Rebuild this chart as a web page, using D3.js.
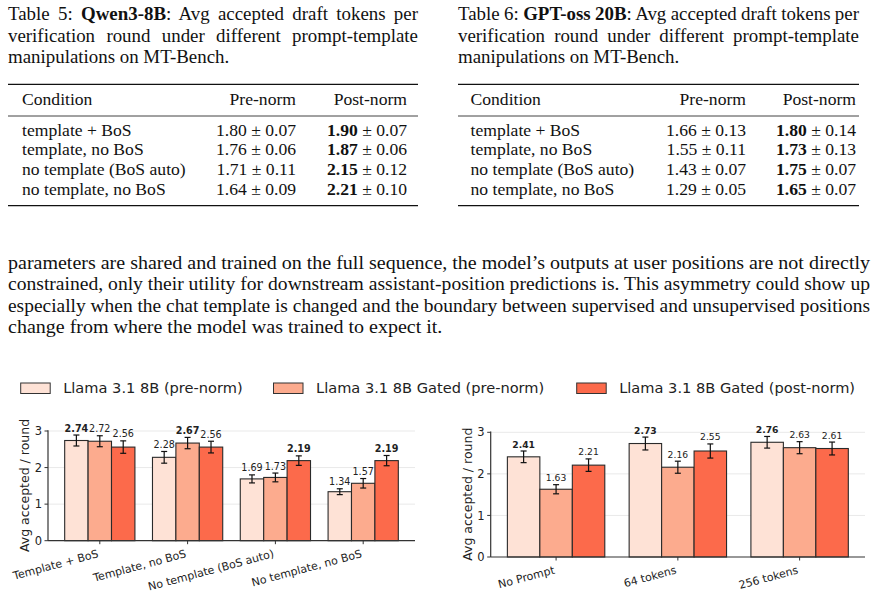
<!DOCTYPE html>
<html>
<head>
<meta charset="utf-8">
<script src="https://cdn.jsdelivr.net/npm/d3@7"></script>
<style>
  body { margin: 0; background: #fff; }
</style>
</head>
<body>
<svg id="page" width="878" height="594"></svg>
<script>
// ---- table data ----
const conditions = ["template + BoS", "template, no BoS", "no template (BoS auto)", "no template, no BoS"];
const qwenPre = [1.80, 1.76, 1.71, 1.64];
const qwenPreErr = [0.07, 0.06, 0.11, 0.09];
const qwenPost = [1.90, 1.87, 2.15, 2.21];
const qwenPostErr = [0.07, 0.06, 0.12, 0.10];
const gptPre = [1.66, 1.55, 1.43, 1.29];
const gptPreErr = [0.13, 0.11, 0.07, 0.05];
const gptPost = [1.80, 1.73, 1.75, 1.65];
const gptPostErr = [0.14, 0.13, 0.07, 0.07];

const paragraph = [
  "parameters are shared and trained on the full sequence, the model\u2019s outputs at user positions are not directly",
  "constrained, only their utility for downstream assistant-position predictions is. This asymmetry could show up",
  "especially when the chat template is changed and the boundary between supervised and unsupervised positions",
  "change from where the model was trained to expect it."
];

// ---- chart data ----
const seriesNames = ["Llama 3.1 8B (pre-norm)", "Llama 3.1 8B Gated (pre-norm)", "Llama 3.1 8B Gated (post-norm)"];
const seriesColors = ["#fee2d6", "#fcab8e", "#fc6a4b"];

const templateCats = ["Template + BoS", "Template, no BoS", "No template (BoS auto)", "No template, no BoS"];
const tLlamaPre = [2.74, 2.28, 1.69, 1.34];
const tLlamaPreErr = [0.15, 0.16, 0.11, 0.08];
const tGatedPre = [2.72, 2.67, 1.73, 1.57];
const tGatedPreErr = [0.15, 0.155, 0.12, 0.13];
const tGatedPost = [2.56, 2.56, 2.19, 2.19];
const tGatedPostErr = [0.17, 0.16, 0.13, 0.14];

const promptCats = ["No Prompt", "64 tokens", "256 tokens"];
const pLlamaPre = [2.41, 2.73, 2.76];
const pLlamaPreErr = [0.14, 0.155, 0.14];
const pGatedPre = [1.63, 2.16, 2.63];
const pGatedPreErr = [0.11, 0.145, 0.145];
const pGatedPost = [2.21, 2.55, 2.61];
const pGatedPostErr = [0.15, 0.17, 0.155];

const yTicks = [0, 1, 2, 3];

const SERIF = "'Liberation Serif', Tinos, 'Nimbus Roman', 'Times New Roman', Times, 'DejaVu Serif', serif";
const SANS = "'DejaVu Sans', sans-serif";

const svg = d3.select("#page");

// justify a text line to a width by word spacing
function justify(sel, width) {
  const w = sel.node().getComputedTextLength();
  const spaces = (sel.text().match(/ /g) || []).length;
  if (spaces > 0) sel.attr("word-spacing", (width - w) / spaces);
}

// ---- tables ----
function drawTable(cfg) {
  const g = svg.append("g").attr("font-family", SERIF).attr("fill", "#111");
  const fs = 17.6;   // table body
  const cs = 18.9;   // caption
  const cap = cfg.caption;
  const l1 = g.append("text").attr("x", cfg.x).attr("y", 19.5).attr("font-size", cs);
  l1.append("tspan").text(cap[0]);
  l1.append("tspan").attr("font-weight", "bold").text(cap[1]);
  l1.append("tspan").text(cap[2]);
  justify(l1, cfg.right - cfg.x);
  const l2 = g.append("text").attr("x", cfg.x).attr("y", 41.5).attr("font-size", cs).text(cap[3]);
  justify(l2, cfg.right - cfg.x);
  g.append("text").attr("x", cfg.x).attr("y", 63.3).attr("font-size", cs).text(cap[4]);

  // rules
  g.append("line").attr("x1", cfg.x).attr("x2", cfg.right).attr("y1", 84.3).attr("y2", 84.3)
    .attr("stroke", "#111").attr("stroke-width", 1.3);
  g.append("line").attr("x1", cfg.x).attr("x2", cfg.right).attr("y1", 116).attr("y2", 116)
    .attr("stroke", "#111").attr("stroke-width", 0.8);
  g.append("line").attr("x1", cfg.x).attr("x2", cfg.right).attr("y1", 205.7).attr("y2", 205.7)
    .attr("stroke", "#111").attr("stroke-width", 1.3);

  g.append("text").attr("x", cfg.condX).attr("y", 105).attr("font-size", fs).text("Condition");
  g.append("text").attr("x", cfg.preX).attr("y", 105).attr("text-anchor", "end").attr("font-size", fs).text("Pre-norm");
  g.append("text").attr("x", cfg.postX).attr("y", 105).attr("text-anchor", "end").attr("font-size", fs).text("Post-norm");

  const rowY = d3.scaleLinear().domain([0, 3]).range([135.5, 195]);
  conditions.forEach((c, i) => {
    g.append("text").attr("x", cfg.condX).attr("y", rowY(i)).attr("font-size", fs).text(c);
    g.append("text").attr("x", cfg.preX).attr("y", rowY(i)).attr("text-anchor", "end").attr("font-size", fs)
      .text(`${cfg.pre[i].toFixed(2)} \u00b1 ${cfg.preErr[i].toFixed(2)}`);
    const t = g.append("text").attr("x", cfg.postX).attr("y", rowY(i)).attr("text-anchor", "end").attr("font-size", fs);
    t.append("tspan").attr("font-weight", "bold").text(cfg.post[i].toFixed(2));
    t.append("tspan").text(` \u00b1 ${cfg.postErr[i].toFixed(2)}`);
  });
}

drawTable({
  x: 8, right: 418, condX: 22, preX: 296, postX: 407,
  caption: ["Table 5: ", "Qwen3-8B", ": Avg accepted draft tokens per",
            "verification round under different prompt-template", "manipulations on MT-Bench."],
  pre: qwenPre, preErr: qwenPreErr, post: qwenPost, postErr: qwenPostErr
});
drawTable({
  x: 458, right: 859, condX: 470.5, preX: 746, postX: 856,
  caption: ["Table 6: ", "GPT-oss 20B", ": Avg accepted draft tokens per",
            "verification round under different prompt-template", "manipulations on MT-Bench."],
  pre: gptPre, preErr: gptPreErr, post: gptPost, postErr: gptPostErr
});

// ---- paragraph ----
const para = svg.append("g").attr("font-family", SERIF).attr("fill", "#111");
const paraY = d3.scaleLinear().domain([0, 3]).range([268.5, 333]);
let squeeze = 1;
paragraph.forEach((line, i) => {
  const t = para.append("text").attr("x", 8).attr("y", paraY(i)).attr("font-size", 18.6).text(line);
  const w = t.node().getComputedTextLength();
  if (i === 0) squeeze = 862 / w;
  if (i < 3) t.attr("textLength", 862).attr("lengthAdjust", "spacingAndGlyphs");
  else t.attr("textLength", w * squeeze).attr("lengthAdjust", "spacingAndGlyphs");
});

// ---- legend ----
const legend = svg.append("g").attr("font-family", SANS);
const legendX = [20.7, 273.5, 576.7];
seriesNames.forEach((name, i) => {
  legend.append("rect").attr("x", legendX[i]).attr("y", 383).attr("width", 29.5).attr("height", 10.5)
    .attr("fill", seriesColors[i]).attr("stroke", "#333").attr("stroke-width", 1);
  legend.append("text").attr("x", legendX[i] + 42.5).attr("y", 393.3)
    .attr("font-size", 14.6).attr("fill", "#222").text(name);
});

// ---- bar charts ----
function drawBars(cfg) {
  const g = svg.append("g").attr("font-family", SANS);
  const x = d3.scaleBand().domain(cfg.cats).range([cfg.left, cfg.right])
    .paddingInner(0.2).paddingOuter(cfg.outer);
  const xs = d3.scaleBand().domain(d3.range(3)).range([0, x.bandwidth()]);
  const y = d3.scaleLinear().domain([0, 3]).range([cfg.bottom, cfg.top3]);
  const yMax = y(3.02);

  // grid
  g.append("g").selectAll("line").data(yTicks.slice(1)).join("line")
    .attr("x1", cfg.left).attr("x2", cfg.right)
    .attr("y1", d => y(d)).attr("y2", d => y(d))
    .attr("stroke", "#e9e9e9").attr("stroke-width", 1);

  const rows = cfg.cats.map((c, i) => ({
    cat: c,
    vals: cfg.values.map((v, j) => ({ j, v: v[i], e: cfg.errs[j][i] }))
  }));

  const grp = g.selectAll("g.grp").data(rows).join("g").attr("class", "grp")
    .attr("transform", d => `translate(${x(d.cat)},0)`);

  grp.selectAll("rect").data(d => d.vals).join("rect")
    .attr("x", d => xs(d.j)).attr("width", xs.bandwidth())
    .attr("y", d => y(d.v)).attr("height", d => y(0) - y(d.v))
    .attr("fill", d => seriesColors[d.j]).attr("stroke", "#2a2a2a").attr("stroke-width", 1.1);

  // error bars
  const eb = grp.selectAll("g.err").data(d => d.vals).join("g").attr("class", "err")
    .attr("stroke", "#111").attr("stroke-width", 1.2);
  const cx = d => xs(d.j) + xs.bandwidth() / 2;
  eb.append("line").attr("x1", cx).attr("x2", cx)
    .attr("y1", d => y(d.v - d.e)).attr("y2", d => y(d.v + d.e));
  eb.append("line").attr("x1", d => cx(d) - 3).attr("x2", d => cx(d) + 3)
    .attr("y1", d => y(d.v - d.e)).attr("y2", d => y(d.v - d.e));
  eb.append("line").attr("x1", d => cx(d) - 3).attr("x2", d => cx(d) + 3)
    .attr("y1", d => y(d.v + d.e)).attr("y2", d => y(d.v + d.e));

  // value labels, bold for the best bar of each group
  grp.each(function (d) {
    const best = d3.max(d.vals, v => v.v);
    d3.select(this).selectAll("text.val").data(d.vals).join("text").attr("class", "val")
      .attr("x", cx).attr("y", v => y(v.v + v.e) - 3.5)
      .attr("text-anchor", "middle").attr("fill", "#222")
      .attr("font-size", cfg.valSize)
      .attr("font-weight", v => v.v === best ? "bold" : "normal")
      .text(v => v.v.toFixed(2));
  });

  // axes
  g.append("line").attr("x1", cfg.left).attr("x2", cfg.left).attr("y1", yMax).attr("y2", y(0))
    .attr("stroke", "#333").attr("stroke-width", 1.2);
  g.append("line").attr("x1", cfg.left).attr("x2", cfg.right).attr("y1", y(0)).attr("y2", y(0))
    .attr("stroke", "#333").attr("stroke-width", 1.2);

  g.append("g").selectAll("line").data(yTicks).join("line")
    .attr("x1", cfg.left - 3.5).attr("x2", cfg.left).attr("y1", d => y(d)).attr("y2", d => y(d))
    .attr("stroke", "#333").attr("stroke-width", 1);
  g.append("g").selectAll("text").data(yTicks).join("text")
    .attr("x", cfg.left - 6).attr("y", d => y(d)).attr("dy", "0.36em")
    .attr("text-anchor", "end").attr("fill", "#222").attr("font-size", 11.5).text(d => d);

  g.append("g").selectAll("line").data(cfg.cats).join("line")
    .attr("x1", d => x(d) + x.bandwidth() / 2).attr("x2", d => x(d) + x.bandwidth() / 2)
    .attr("y1", y(0)).attr("y2", y(0) + 3.5)
    .attr("stroke", "#333").attr("stroke-width", 1);
  g.append("g").selectAll("text").data(cfg.cats).join("text")
    .attr("transform", d => `translate(${x(d) + x.bandwidth() / 2 - 3},${y(0) + 8}) rotate(-15)`)
    .attr("dy", "0.78em").attr("text-anchor", "end").attr("fill", "#222")
    .attr("font-size", 11).text(d => d);

  g.append("text")
    .attr("transform", `translate(${cfg.labelX},${(y(0) + yMax) / 2}) rotate(-90)`)
    .attr("text-anchor", "middle").attr("dy", "0.35em").attr("fill", "#222")
    .attr("font-size", 12.5).text("Avg accepted / round");
}

drawBars({
  cats: templateCats, left: 48, right: 415, bottom: 540.7, top3: 431, outer: 0.19,
  values: [tLlamaPre, tGatedPre, tGatedPost], errs: [tLlamaPreErr, tGatedPreErr, tGatedPostErr],
  valSize: 9.6, labelX: 25
});
drawBars({
  cats: promptCats, left: 490.7, right: 865, bottom: 557, top3: 432.3, outer: 0.137,
  values: [pLlamaPre, pGatedPre, pGatedPost], errs: [pLlamaPreErr, pGatedPreErr, pGatedPostErr],
  valSize: 9.2, labelX: 468
});
</script>
</body>
</html>
